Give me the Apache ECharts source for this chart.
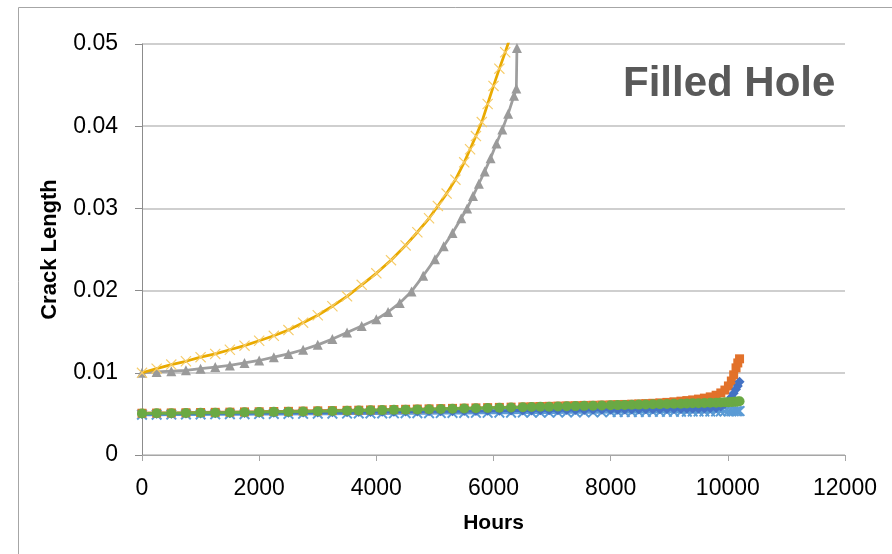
<!DOCTYPE html>
<html><head><meta charset="utf-8">
<script src="https://cdn.jsdelivr.net/npm/echarts@6/dist/echarts.min.js"></script>
<style>html,body{margin:0;padding:0;background:#fff}#c{width:892px;height:554px}</style>
</head><body><div id="c"></div>
<script>
// ---- data ----
const xTicks = [0, 2000, 4000, 6000, 8000, 10000, 12000];
const yTicks = [0, 0.01, 0.02, 0.03, 0.04, 0.05];

const hoursGold = [0,250,500,750,1000,1250,1500,1750,2000,2250,2500,2750,3000,3250,3500,3750,4000,4250,4500,4700,4900,5050,5200,5350,5500,5600,5700,5800,5900,6000,6100,6200,6280];
const crackGold = [0.0100,0.0105,0.0110,0.0114,0.0119,0.0123,0.0128,0.0133,0.0139,0.0145,0.0152,0.0161,0.0170,0.0181,0.0193,0.0207,0.0221,0.0237,0.0255,0.0271,0.0288,0.0303,0.0318,0.0335,0.0356,0.0372,0.0388,0.0405,0.0427,0.0449,0.0470,0.0490,0.0507];

const hoursGray = [0,250,500,750,1000,1250,1500,1750,2000,2250,2500,2750,3000,3250,3500,3750,4000,4200,4400,4600,4800,5000,5150,5300,5450,5550,5650,5750,5850,5950,6050,6150,6250,6350,6390,6400];
const crackGray = [0.0100,0.0101,0.0102,0.0103,0.0105,0.0107,0.0109,0.0112,0.0115,0.0119,0.0123,0.0128,0.0134,0.0141,0.0149,0.0157,0.0165,0.0174,0.0185,0.0199,0.0218,0.0238,0.0254,0.0270,0.0288,0.0300,0.0315,0.0330,0.0345,0.0361,0.0379,0.0396,0.0415,0.0437,0.0446,0.0495];

const hoursLow = [0,250,500,750,1000,1250,1500,1750,2000,2250,2500,2750,3000,3250,3500,
  3700,3900,4100,4300,4500,4700,4900,5100,5300,5500,5700,5900,6100,6300,6500,
  6650,6800,6950,7100,7250,7400,7550,7700,7850,8000,
  8120,8240,8360,8480,8600,8720,8840,8960,9080,9200,
  9300,9400,9500,9600,9700,9800,
  9880,9950,10010,10060,10100,10140,10170,10200];

const crackLightBlue = [0.00490,0.00491,0.00492,0.00493,0.00494,0.00495,0.00496,0.00497,0.00498,0.00499,0.00500,0.00501,0.00502,0.00503,0.00504,
  0.00505,0.00505,0.00506,0.00507,0.00508,0.00509,0.00509,0.00510,0.00511,0.00512,0.00513,0.00513,0.00514,0.00515,0.00516,
  0.00516,0.00517,0.00517,0.00518,0.00519,0.00519,0.00520,0.00520,0.00521,0.00522,
  0.00522,0.00523,0.00523,0.00524,0.00524,0.00525,0.00525,0.00526,0.00526,0.00527,
  0.00527,0.00528,0.00528,0.00529,0.00529,0.00530,
  0.00530,0.00531,0.00531,0.00532,0.00532,0.00533,0.00533,0.00534];

const crackOrange = [0.00508,0.00510,0.00512,0.00514,0.00517,0.00519,0.00521,0.00524,0.00526,0.00529,0.00531,0.00534,0.00537,0.00540,0.00543,
  0.00545,0.00548,0.00550,0.00553,0.00556,0.00559,0.00561,0.00564,0.00567,0.00570,0.00573,0.00576,0.00579,0.00582,0.00585,
  0.00587,0.00590,0.00592,0.00595,0.00598,0.00600,0.00603,0.00605,0.00608,0.00610,
  0.00612,0.00615,0.00618,0.00621,0.00625,0.00629,0.00634,0.00640,0.00647,0.00655,
  0.00662,0.00670,0.00680,0.00692,0.00707,0.00727,
  0.00755,0.00790,0.00840,0.00900,0.00975,0.01060,0.01120,0.01170];

const crackDarkBlue = [0.00500,0.00502,0.00503,0.00505,0.00506,0.00508,0.00509,0.00511,0.00512,0.00514,0.00515,0.00517,0.00518,0.00520,0.00521,
  0.00523,0.00524,0.00525,0.00527,0.00528,0.00529,0.00531,0.00532,0.00533,0.00535,0.00536,0.00537,0.00539,0.00540,0.00541,
  0.00542,0.00543,0.00544,0.00545,0.00546,0.00547,0.00548,0.00549,0.00550,0.00551,
  0.00552,0.00553,0.00554,0.00555,0.00556,0.00557,0.00558,0.00559,0.00560,0.00561,
  0.00562,0.00563,0.00564,0.00566,0.00568,0.00571,
  0.00590,0.00620,0.00660,0.00705,0.00750,0.00800,0.00840,0.00890];

const crackGreen = [0.00505,0.00507,0.00509,0.00511,0.00513,0.00515,0.00517,0.00520,0.00522,0.00525,0.00527,0.00530,0.00533,0.00536,0.00539,
  0.00541,0.00544,0.00546,0.00549,0.00552,0.00555,0.00557,0.00560,0.00563,0.00566,0.00569,0.00572,0.00575,0.00578,0.00581,
  0.00583,0.00586,0.00588,0.00590,0.00593,0.00595,0.00598,0.00600,0.00603,0.00605,
  0.00607,0.00609,0.00611,0.00613,0.00615,0.00617,0.00619,0.00621,0.00623,0.00625,
  0.00627,0.00629,0.00631,0.00633,0.00635,0.00637,
  0.00639,0.00641,0.00643,0.00645,0.00647,0.00649,0.00651,0.00653];

// ---- chart ----
const X_SYM = 'path://M0,1.5L1.5,0L10,8.5L18.5,0L20,1.5L11.5,10L20,18.5L18.5,20L10,11.5L1.5,20L0,18.5L8.5,10Z';
const STAR_SYM = 'path://M0,2.5L2.5,0L10,7.5L17.5,0L20,2.5L12.5,10L20,17.5L17.5,20L10,12.5L2.5,20L0,17.5L7.5,10Z';
const pairs = (xs, ys) => xs.map((x, i) => [x, ys[i]]);
function mk(name, xs, ys, lineColor, symbol, size, markColor, z, width) {
  return {
    name, type: 'line', data: pairs(xs, ys), z,
    symbol, symbolSize: size, showAllSymbol: true,
    lineStyle: { color: lineColor, width: width || 2.75 },
    itemStyle: { color: markColor, borderWidth: 0 },
    animation: false, silent: true, clip: true
  };
}
const FONT = "'Liberation Sans', Arial, sans-serif";
const chart = echarts.init(document.getElementById('c'), null, { renderer: 'canvas' });
chart.setOption({
  backgroundColor: '#fff',
  animation: false,
  grid: { left: 142, right: 47, top: 44, bottom: 99, containLabel: false },
  xAxis: {
    type: 'value', min: xTicks[0], max: xTicks[xTicks.length - 1], interval: 2000,
    name: 'Hours', nameLocation: 'middle', nameGap: 58,
    nameTextStyle: { fontFamily: FONT, fontWeight: 'bold', fontSize: 21, color: '#000' },
    axisLine: { show: true, lineStyle: { color: '#a6a6a6', width: 1 } },
    axisTick: { show: true, length: 6, lineStyle: { color: '#a6a6a6' } },
    axisLabel: { fontFamily: FONT, fontSize: 23, color: '#000', margin: 22,
      formatter: v => String(v) },
    splitLine: { show: false }
  },
  yAxis: {
    type: 'value', min: yTicks[0], max: yTicks[yTicks.length - 1], interval: 0.01,
    name: 'Crack Length', nameLocation: 'middle', nameGap: 81, nameRotate: 90,
    nameTextStyle: { fontFamily: FONT, fontWeight: 'bold', fontSize: 22, color: '#000' },
    axisLine: { show: true, lineStyle: { color: '#8c8c8c', width: 1 } },
    axisTick: { show: true, length: 7, lineStyle: { color: '#8c8c8c' } },
    axisLabel: { fontFamily: FONT, fontSize: 23, color: '#000', margin: 24,
      formatter: v => v === 0 ? '0' : v.toFixed(2) },
    splitLine: { show: true, lineStyle: { color: '#bfbfbf', width: 1.5 } }
  },
  graphic: [
    { type: 'rect', shape: { x: 18.5, y: 7.5, width: 1000, height: 1000 }, style: { fill: 'none', stroke: '#a6a6a6', lineWidth: 1 }, silent: true, z: -10 },
    { type: 'text', left: 623, top: 63, style: { text: 'Filled Hole', font: "bold 42px 'Liberation Sans', Arial, sans-serif", fill: '#595959' }, silent: true }
  ],
  series: [
    mk('S1', hoursLow, crackLightBlue, '#5B9BD5', STAR_SYM, 11, '#5B9BD5', 2, 3),
    mk('S2', hoursLow, crackOrange, '#E2712A', 'rect', 9, '#E2712A', 3, 3),
    mk('S3', hoursGray, crackGray, '#9e9e9e', 'triangle', 10, '#9a9a9a', 4),
    mk('S4', hoursGold, crackGold, '#E9AA00', X_SYM, 11, '#F6CC6A', 5),
    mk('S5', hoursLow, crackDarkBlue, '#4472C4', 'diamond', 10, '#4472C4', 6, 3),
    mk('S6', hoursLow, crackGreen, '#70AD47', 'circle', 10, '#6aa944', 7, 3)
  ]
});
</script>
</body></html>
